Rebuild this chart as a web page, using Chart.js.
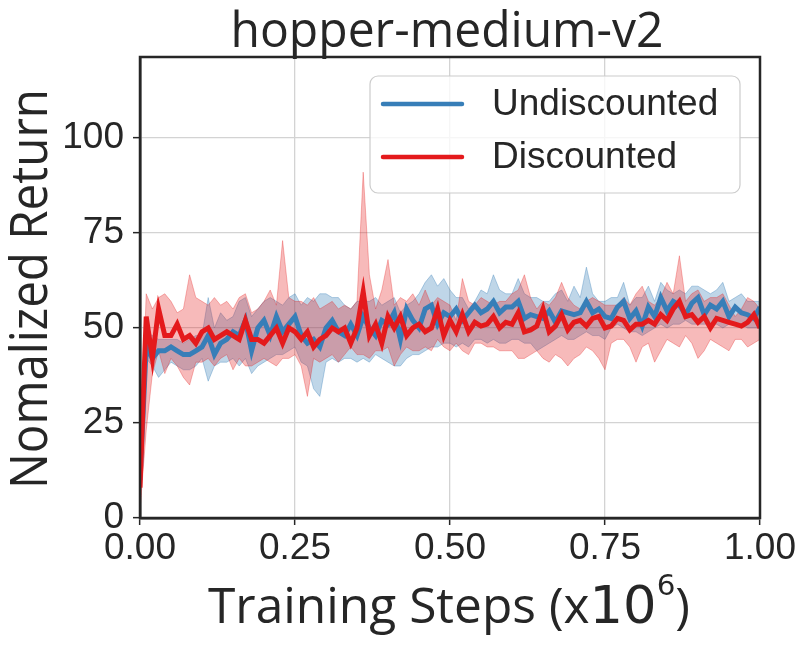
<!DOCTYPE html>
<html>
<head>
<meta charset="utf-8">
<title>hopper-medium-v2</title>
<script src="https://cdn.jsdelivr.net/npm/chart.js@4.4.1/dist/chart.umd.min.js"></script>
<style>
    html, body { margin: 0; padding: 0; background: #ffffff; }
    #wrap { width: 806px; height: 647px; }
</style>
</head>
<body>
<div id="wrap"><canvas id="chart" width="806" height="647"></canvas></div>
<script>
/* hopper-medium-v2: undiscounted vs discounted return curves */

const chartTitle = 'hopper-medium-v2';
const seriesNames = ['Undiscounted', 'Discounted'];
const xTicks = [0, 0.25, 0.5, 0.75, 1.0];
const yTicks = [0, 25, 50, 75, 100];

const steps = [
    0.00, 0.01, 0.02, 0.03, 0.04, 0.05, 0.06, 0.07, 0.08, 0.09,
    0.10, 0.11, 0.12, 0.13, 0.14, 0.15, 0.16, 0.17, 0.18, 0.19,
    0.20, 0.21, 0.22, 0.23, 0.24, 0.25, 0.26, 0.27, 0.28, 0.29,
    0.30, 0.31, 0.32, 0.33, 0.34, 0.35, 0.36, 0.37, 0.38, 0.39,
    0.40, 0.41, 0.42, 0.43, 0.44, 0.45, 0.46, 0.47, 0.48, 0.49,
    0.50, 0.51, 0.52, 0.53, 0.54, 0.55, 0.56, 0.57, 0.58, 0.59,
    0.60, 0.61, 0.62, 0.63, 0.64, 0.65, 0.66, 0.67, 0.68, 0.69,
    0.70, 0.71, 0.72, 0.73, 0.74, 0.75, 0.76, 0.77, 0.78, 0.79,
    0.80, 0.81, 0.82, 0.83, 0.84, 0.85, 0.86, 0.87, 0.88, 0.89,
    0.90, 0.91, 0.92, 0.93, 0.94, 0.95, 0.96, 0.97, 0.98, 0.99,
    1.00
];

const undiscMean = [
    10, 45, 42, 44, 44, 45, 44, 43, 43, 44,
    45, 48, 43, 46, 47, 49, 48, 52, 44, 50,
    52, 48, 53, 49, 51, 53, 48, 46, 47, 45,
    50, 52, 49, 48, 51, 48, 53, 50, 48, 52,
    51, 54, 47, 55, 52, 50, 55, 56, 51, 54,
    53, 55, 52, 54, 56, 54, 55, 57, 54, 55.5,
    55.5, 57, 52.5, 53.5, 53, 52.5, 54.5, 51.5, 54.5, 54,
    53.5, 54, 57, 54, 55, 53, 52.5, 55.5, 57, 52.5,
    54.5, 50.5, 55.5, 53, 58, 54.5, 57, 56, 53.5, 56.5,
    58, 53.5, 56, 55, 57, 53, 55.5, 54, 53.5, 52.5,
    55.5
];
const undiscLow = [
    4, 42, 40, 37, 39, 41, 40, 39, 39, 40,
    42, 36, 40, 41, 41, 42, 40, 42, 38, 40,
    41, 42, 43, 43, 44, 45, 41, 40, 34, 32,
    41, 42, 41, 42, 42, 41, 42, 41, 43, 42,
    41, 40, 40, 42, 43, 43, 44, 45, 45, 46,
    46, 45, 46, 45, 47, 47, 46, 47, 46, 46,
    47, 47, 46, 46, 44, 45, 46, 47, 48, 47,
    47, 48, 49, 48, 48, 47, 50, 51, 50, 49,
    49, 48, 49, 50, 51, 50, 51, 51, 52, 51,
    51, 51, 51, 51, 50, 51, 51, 51, 50, 50,
    50
];
const undiscHigh = [
    14, 49, 48, 47, 47, 47, 47, 46, 47, 48,
    48, 58, 50, 54, 52, 53, 57, 58, 53, 55,
    57, 58, 57, 56, 58, 59, 56, 58, 57, 59,
    59, 58, 58, 56, 55, 57, 57, 57, 58, 56,
    57, 58, 54, 56, 57, 59, 62, 64, 61, 63,
    60, 58, 58, 55, 57, 60, 59, 64, 60, 59,
    59, 63, 59, 58, 58, 57, 57, 59, 60, 57,
    61, 58, 66, 59, 57, 57, 58, 58, 62, 56,
    58, 58, 61, 57, 62, 60, 59, 60, 59, 61,
    61, 60, 59, 60, 62, 57, 58, 59, 57, 57,
    57
];

const discMean = [
    8, 53, 42, 55, 48, 48, 51, 47, 48, 46,
    49, 50, 47, 48, 49, 48, 47, 52, 47, 47,
    46, 48, 50, 46, 50, 49, 47, 49, 45, 47,
    48, 50, 49, 50, 46, 50, 59.5, 48, 51, 46,
    53, 50, 53, 48, 50, 51, 49, 50, 55, 48,
    52, 49, 53.5, 49, 51.5, 50.5, 51, 53, 50, 51.5,
    51, 54, 49, 49.5, 50.5, 55, 49, 50.5, 53.5, 49.5,
    51.5, 52, 50.5, 52.5, 53, 50, 50.5, 52.5, 52, 49.5,
    51, 51, 52, 51, 53.5, 52, 55, 57, 53, 53.5,
    51.5, 53, 50, 52.5, 52, 51.5, 51, 50.5, 51.5, 53.5,
    50
];
const discLow = [
    2, 23, 38, 44, 38, 42, 40, 37, 35, 41,
    41, 42, 40, 42, 43, 39, 42, 40, 40, 41,
    42, 41, 40, 42, 42, 43, 40, 32, 42, 41,
    42, 43, 41, 43, 45, 43, 43, 42, 44, 44,
    45, 40, 43, 45, 44, 44, 45, 44, 47, 45,
    44, 46, 44, 43, 46, 46, 45, 45, 44, 44,
    44, 42, 42, 43, 44, 42, 41, 43, 42, 40,
    42, 43, 45, 44, 42, 39, 46, 47, 47, 45,
    41, 45, 46, 41, 44, 47, 46, 45, 48, 46,
    42, 44, 47, 46, 45, 44, 47, 47, 45, 46,
    47
];
const discHigh = [
    12, 59, 55, 58, 59, 57, 54, 55, 64, 58,
    57, 56, 58, 56, 57, 55, 58, 59, 54, 55,
    57, 60, 56, 73, 58, 57, 57, 56, 58, 55,
    56, 57, 55, 56, 55, 57, 91, 64, 55, 60,
    68, 56, 58, 57, 59, 56, 60, 56, 58, 57,
    56, 52, 63, 57, 56, 58, 57, 56, 57, 57,
    59, 60, 64, 58, 55, 57, 56, 58, 62, 58,
    56, 55, 57, 58, 57, 56, 56, 56, 58, 56,
    59, 61, 57, 56, 58, 62, 59, 69, 57, 59,
    60, 57, 58, 58, 59, 56, 53, 55, 58, 57,
    55
];

const BLUE = '#377eb8';
const RED = '#e41a1c';
const BLUE_FILL = 'rgba(55, 126, 184, 0.32)';
const RED_FILL = 'rgba(228, 26, 28, 0.30)';
const DARK = '#262626';

function pts(values) {
    return values.map(function (v, i) { return { x: steps[i], y: v }; });
}

function bandEdge(values, color, order) {
    return { data: pts(values), borderColor: color, borderWidth: 1, pointRadius: 0, fill: false, order: order };
}

// dataset indices: 0 blue low, 1 blue high, 2 red low, 3 red high, 4 blue line, 5 red line
// all bands sit under both lines
const datasets = [
    bandEdge(undiscLow, 'rgba(55, 126, 184, 0.35)', 6),
    Object.assign(bandEdge(undiscHigh, 'rgba(55, 126, 184, 0.35)', 5), { fill: { target: 0 }, backgroundColor: BLUE_FILL }),
    bandEdge(discLow, 'rgba(228, 26, 28, 0.3)', 4),
    Object.assign(bandEdge(discHigh, 'rgba(228, 26, 28, 0.3)', 3), { fill: { target: 2 }, backgroundColor: RED_FILL }),
    { label: seriesNames[0], data: pts(undiscMean), borderColor: BLUE, borderWidth: 5, pointRadius: 0, fill: false, order: 2 },
    { label: seriesNames[1], data: pts(discMean), borderColor: RED, borderWidth: 5, pointRadius: 0, fill: false, order: 1 }
];

// draws text squeezed horizontally to a target width
function squeezeText(ctx, parts, cx, targetWidth) {
    let total = 0;
    parts.forEach(function (p) { ctx.font = p.font; p.w = ctx.measureText(p.text).width; total += p.w; });
    const sx = targetWidth / total;
    ctx.save();
    ctx.translate(cx - targetWidth / 2, 0);
    ctx.scale(sx, 1);
    let x = 0;
    parts.forEach(function (p) {
        ctx.font = p.font;
        ctx.fillText(p.text, x, p.y);
        x += p.w;
    });
    ctx.restore();
}

const decorations = {
    id: 'decorations',
    afterDraw: function (chart) {
        const ctx = chart.ctx;
        const a = chart.chartArea;
        ctx.save();

        // top and right spines
        ctx.strokeStyle = DARK;
        ctx.lineWidth = 2.5;
        ctx.strokeRect(a.left, a.top, a.right - a.left, a.bottom - a.top);

        ctx.fillStyle = DARK;
        ctx.textAlign = 'left';
        ctx.textBaseline = 'alphabetic';

        // title
        squeezeText(ctx, [{ text: chartTitle, font: '49px "Open Sans"', y: 47 }], 447, 433);

        // x axis title with superscript
        squeezeText(ctx, [
            { text: 'Training Steps (x', font: '49px "Open Sans"', y: 623 },
            { text: '10', font: '52px "DejaVu Sans"', y: 623 },
            { text: '6', font: '29px "DejaVu Sans"', y: 595 },
            { text: ')', font: '49px "Open Sans"', y: 623 }
        ], 449, 482);

        // y axis title
        ctx.save();
        ctx.translate(47, 289);
        ctx.rotate(-Math.PI / 2);
        squeezeText(ctx, [{ text: 'Nomalized Return', font: '51px "Open Sans"', y: 0 }], 0, 400);
        ctx.restore();

        // legend
        const lx = 370, ly = 76, lw = 370, lh = 117;
        ctx.beginPath();
        ctx.roundRect(lx, ly, lw, lh, 8);
        ctx.fillStyle = 'rgba(255, 255, 255, 0.8)';
        ctx.fill();
        ctx.strokeStyle = '#cccccc';
        ctx.lineWidth = 1.2;
        ctx.stroke();

        const rows = [[seriesNames[0], BLUE, 104], [seriesNames[1], RED, 157]];
        ctx.lineCap = 'round';
        ctx.font = '37px "Liberation Sans", Arial, sans-serif';
        ctx.textBaseline = 'middle';
        rows.forEach(function (r) {
            ctx.strokeStyle = r[1];
            ctx.lineWidth = 4.5;
            ctx.beginPath();
            ctx.moveTo(383, r[2]);
            ctx.lineTo(462, r[2]);
            ctx.stroke();
            ctx.fillStyle = DARK;
            ctx.fillText(r[0], 492, r[2] + 1);
        });
        ctx.restore();
    }
};

const tickFont = { family: '"Liberation Sans", Arial, sans-serif', size: 37 };

new Chart(document.getElementById('chart'), {
    type: 'line',
    data: { datasets: datasets },
    options: {
        responsive: false,
        animation: false,
        layout: { padding: { top: 57, right: 46, left: 0, bottom: 0 } },
        plugins: {
            legend: { display: false },
            title: { display: false },
            tooltip: { enabled: false }
        },
        elements: { line: { tension: 0 } },
        scales: {
            x: {
                type: 'linear',
                min: 0,
                max: 1,
                afterFit: function (s) { s.height = 129; },
                afterBuildTicks: function (s) { s.ticks = xTicks.map(function (v) { return { value: v }; }); },
                ticks: {
                    color: DARK,
                    font: tickFont,
                    padding: 2,
                    maxRotation: 0,
                    callback: function (v) { return Number(v).toFixed(2); }
                },
                grid: { color: '#d3d3d3', lineWidth: 1.3, tickColor: DARK, tickLength: 7, tickWidth: 1.5 },
                border: { color: DARK, width: 2.5 }
            },
            y: {
                min: 0,
                max: 121.3,
                afterFit: function (s) { s.width = 140; },
                afterBuildTicks: function (s) { s.ticks = yTicks.map(function (v) { return { value: v }; }); },
                ticks: { color: DARK, font: tickFont, padding: 9 },
                grid: { color: '#d3d3d3', lineWidth: 1.3, tickColor: DARK, tickLength: 7, tickWidth: 1.5 },
                border: { color: DARK, width: 2.5 }
            }
        }
    },
    plugins: [decorations]
});
</script>
</body>
</html>
